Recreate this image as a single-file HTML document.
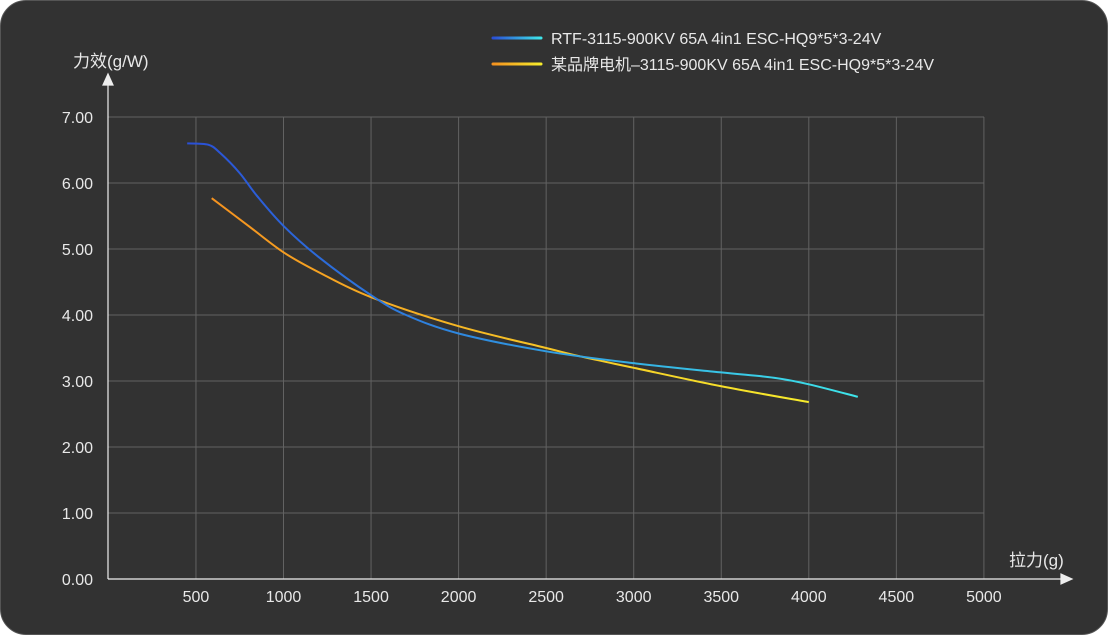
<!DOCTYPE html>
<html><head><meta charset="utf-8"><style>
html,body{margin:0;padding:0;background:#fff;}
#card{position:absolute;left:0;top:0;width:1106px;height:633px;background:#323232;border:1px solid #555;border-radius:26px;overflow:hidden;}
svg{position:absolute;left:0;top:0;}
text{font-family:"Liberation Sans","Noto Sans CJK SC",sans-serif;fill:#e8e8e8;}
</style></head><body>
<div id="card">
<svg id="chart" width="1108" height="635">
<defs>
<linearGradient id="gBlue" gradientUnits="userSpaceOnUse" x1="492" x2="540" y1="0" y2="0"><stop offset="0" stop-color="#2a4fd6"/><stop offset="1" stop-color="#3ee6ea"/></linearGradient>
<linearGradient id="gOrange" gradientUnits="userSpaceOnUse" x1="492" x2="540" y1="0" y2="0"><stop offset="0" stop-color="#f5921f"/><stop offset="1" stop-color="#f7ec2c"/></linearGradient>
<linearGradient id="gBlueS" gradientUnits="userSpaceOnUse" x1="185" x2="860" y1="0" y2="0"><stop offset="0" stop-color="#2a4fd6"/><stop offset="0.45" stop-color="#2f8ee0"/><stop offset="1" stop-color="#3ee6ea"/></linearGradient>
<linearGradient id="gOrangeS" gradientUnits="userSpaceOnUse" x1="210" x2="808" y1="0" y2="0"><stop offset="0" stop-color="#f5921f"/><stop offset="1" stop-color="#f7ec2c"/></linearGradient>
</defs>
</svg>
</div>
<script>
const xTicks=[500,1000,1500,2000,2500,3000,3500,4000,4500,5000];
const yTicks=[0,1,2,3,4,5,6,7];
const blueX=[450,570,640,750,850,1000,1200,1500,1700,2000,2500,3000,3500,3800,4000,4280];
const blueY=[6.6,6.58,6.45,6.15,5.8,5.35,4.88,4.3,4.0,3.72,3.45,3.27,3.13,3.05,2.95,2.76];
const orangeX=[590,800,1000,1200,1500,2000,2500,2700,3000,3500,4000];
const orangeY=[5.77,5.35,4.95,4.65,4.27,3.83,3.5,3.37,3.2,2.92,2.68];
const NS="http://www.w3.org/2000/svg";
const svg=document.getElementById('chart');
const X=v=>107.4+v*0.1751;
const Y=v=>578-v*66;
function mk(t,a){const e=document.createElementNS(NS,t);for(const k in a)e.setAttribute(k,a[k]);svg.appendChild(e);return e;}
yTicks.forEach(v=>{
 if(v>0){const l=mk('line',{x1:107,x2:983,y1:Y(v),y2:Y(v),stroke:'#626262','stroke-width':1});
 
 }
 const t=mk('text',{x:92,y:Y(v)+6,'text-anchor':'end','font-size':16});t.textContent=v.toFixed(2);
 
 
});
xTicks.forEach(v=>{
 const l=mk('line',{x1:X(v),x2:X(v),y1:Y(7),y2:578,stroke:'#626262','stroke-width':1});
 
 
 const t=mk('text',{x:X(v),y:601,'text-anchor':'middle','font-size':16});t.textContent=v;
 
 
});
let a=mk('path',{d:'M107 578 V74 M102 84 L107 73 L112 84 Z',stroke:'#eee',fill:'#eee','stroke-width':1.2});


a=mk('path',{d:'M107 578 H1070 M1060 573 L1071 578 L1060 583 Z',stroke:'#eee',fill:'#eee','stroke-width':1.2});


let t=mk('text',{x:72,y:66,'font-size':17});t.textContent='力效(g/W)';


t=mk('text',{x:1008,y:565,'font-size':17});t.textContent='拉力(g)';


function curve(xs,ys){const p=xs.map((x,i)=>[X(x),Y(ys[i])]);let d='M'+p[0][0]+' '+p[0][1];
 for(let i=0;i<p.length-1;i++){const p0=p[i-1]||p[i],p1=p[i],p2=p[i+1],p3=p[i+2]||p2;
 d+=` C${p1[0]+(p2[0]-p0[0])/6} ${p1[1]+(p2[1]-p0[1])/6} ${p2[0]-(p3[0]-p1[0])/6} ${p2[1]-(p3[1]-p1[1])/6} ${p2[0]} ${p2[1]}`;}return d;}
let s=mk('path',{d:curve(orangeX,orangeY),fill:'none',stroke:'url(#gOrangeS)','stroke-width':2});


s=mk('path',{d:curve(blueX,blueY),fill:'none',stroke:'url(#gBlueS)','stroke-width':2});


s=mk('line',{x1:492,x2:540,y1:37,y2:37,stroke:'url(#gBlue)','stroke-width':3,'stroke-linecap':'round'});


t=mk('text',{x:550,y:43,'font-size':16});t.textContent='RTF-3115-900KV 65A 4in1 ESC-HQ9*5*3-24V';


s=mk('line',{x1:492,x2:540,y1:63,y2:63,stroke:'url(#gOrange)','stroke-width':3,'stroke-linecap':'round'});


t=mk('text',{x:550,y:69,'font-size':16});t.textContent='某品牌电机–3115-900KV 65A 4in1 ESC-HQ9*5*3-24V';


</script>
</body></html>
